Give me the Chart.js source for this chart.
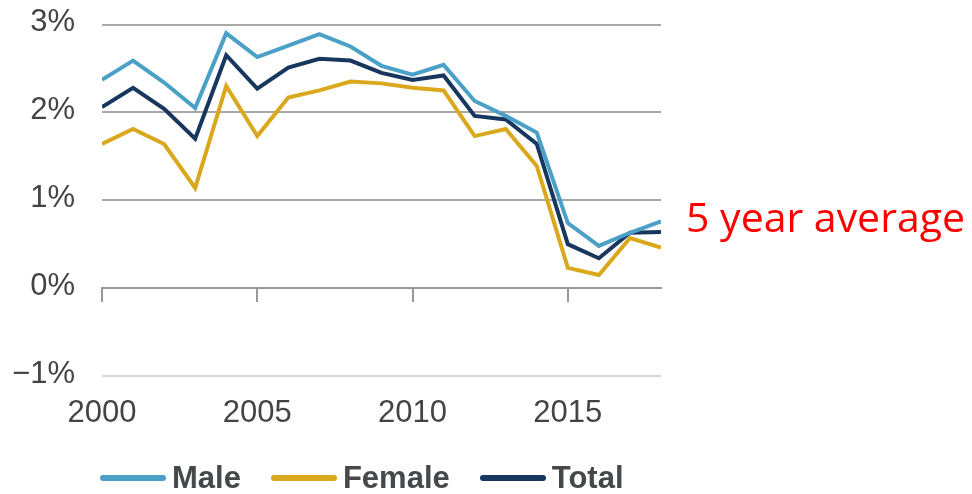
<!DOCTYPE html>
<html>
<head>
<meta charset="utf-8">
<script src="https://cdn.jsdelivr.net/npm/chart.js@4/dist/chart.umd.min.js"></script>
<style>
  html, body { margin: 0; padding: 0; background: #fff; }
  #wrap { position: relative; width: 972px; height: 494px; }
  #note { position: absolute; left: 686px; top: 188px; color: #ff0000;
    font: 41px "Open Sans", "Noto Sans", sans-serif; white-space: nowrap; }
  #legend { position: absolute; left: 100px; top: 460px; display: flex; align-items: center;
    font: bold 31px "Liberation Sans", Arial, sans-serif; color: #45494c; }
  .item { display: flex; align-items: center; margin-right: 30px; }
  .swatch { width: 66px; height: 6px; border-radius: 3px; margin-right: 6px; }
</style>
</head>
<body>
<div id="wrap">
  <canvas id="chart" width="972" height="494"></canvas>
  <div id="note">5 year average</div>
  <div id="legend"></div>
</div>
<script>
const years = [2000, 2001, 2002, 2003, 2004, 2005, 2006, 2007, 2008, 2009,
               2010, 2011, 2012, 2013, 2014, 2015, 2016, 2017, 2018];
const male = [2.37, 2.59, 2.34, 2.05, 2.90, 2.63, 2.76, 2.89, 2.75, 2.53,
              2.43, 2.54, 2.13, 1.96, 1.77, 0.74, 0.48, 0.63, 0.76];
const female = [1.64, 1.81, 1.64, 1.14, 2.30, 1.73, 2.17, 2.25, 2.35, 2.33,
                2.28, 2.25, 1.73, 1.81, 1.39, 0.23, 0.15, 0.57, 0.46];
const total = [2.06, 2.28, 2.04, 1.70, 2.65, 2.27, 2.51, 2.61, 2.59, 2.45,
               2.37, 2.42, 1.96, 1.92, 1.64, 0.50, 0.34, 0.63, 0.64];
const seriesNames = ["Male", "Female", "Total"];
const seriesColors = ["#4aa0c6", "#d9a81c", "#17375e"];
const yTicks = [-1, 0, 1, 2, 3];
const xTicks = [2000, 2005, 2010, 2015];

const font = "'Liberation Sans', Arial, sans-serif";
const toPoints = vals => vals.map((v, i) => ({ x: years[i], y: v }));

const datasets = [male, female, total].map((vals, i) => ({
    label: seriesNames[i],
    data: toPoints(vals),
    borderColor: seriesColors[i],
    backgroundColor: seriesColors[i],
    borderWidth: 4,
    pointRadius: 0,
    tension: 0,
    xAxisID: "x",
    yAxisID: "y"
}));

const setXTicks = s => { s.ticks = xTicks.map(v => ({ value: v })); };

new Chart(document.getElementById("chart"), {
    type: "line",
    data: { datasets },
    options: {
        responsive: false,
        animation: false,
        layout: { padding: { left: 0, right: 311, top: 24.5, bottom: 0 } },
        plugins: { legend: { display: false }, tooltip: { enabled: false } },
        scales: {
            x: {
                type: "linear",
                min: years[0],
                max: years[years.length - 1],
                afterBuildTicks: setXTicks,
                afterFit: s => { s.height = 118; },
                grid: { display: false, drawTicks: false },
                border: { display: false },
                ticks: { padding: 19, color: "#444", font: { family: font, size: 31 },
                         autoSkip: false, maxRotation: 0, callback: v => String(v) }
            },
            x2: {
                type: "linear",
                position: { y: 0 },
                min: years[0],
                max: years[years.length - 1],
                afterBuildTicks: setXTicks,
                grid: { drawOnChartArea: false, drawTicks: true, tickLength: 13, color: "#999", lineWidth: 2 },
                border: { display: true, color: "#999", width: 2 },
                ticks: { display: false, autoSkip: false }
            },
            y: {
                min: yTicks[0],
                max: yTicks[yTicks.length - 1],
                afterBuildTicks: s => { s.ticks = yTicks.map(v => ({ value: v })); },
                afterFit: s => { s.width = 102; s.paddingTop = 0; s.paddingBottom = 0; },
                grid: { drawTicks: false, lineWidth: 2,
                        color: c => c.tick && c.tick.value === -1 ? "#d4d4d4" : "#a8a8a8" },
                border: { display: false },
                ticks: { padding: 27, color: "#444", font: { family: font, size: 31 }, labelOffset: -2,
                         callback: v => (v < 0 ? "\u2212" + Math.abs(v) : v) + "%" }
            }
        }
    }
});

const legend = document.getElementById("legend");
seriesNames.forEach((name, i) => {
    const item = document.createElement("div");
    item.className = "item";
    const sw = document.createElement("span");
    sw.className = "swatch";
    sw.style.background = seriesColors[i];
    const txt = document.createElement("span");
    txt.textContent = name;
    item.appendChild(sw);
    item.appendChild(txt);
    legend.appendChild(item);
});
</script>
</body>
</html>
